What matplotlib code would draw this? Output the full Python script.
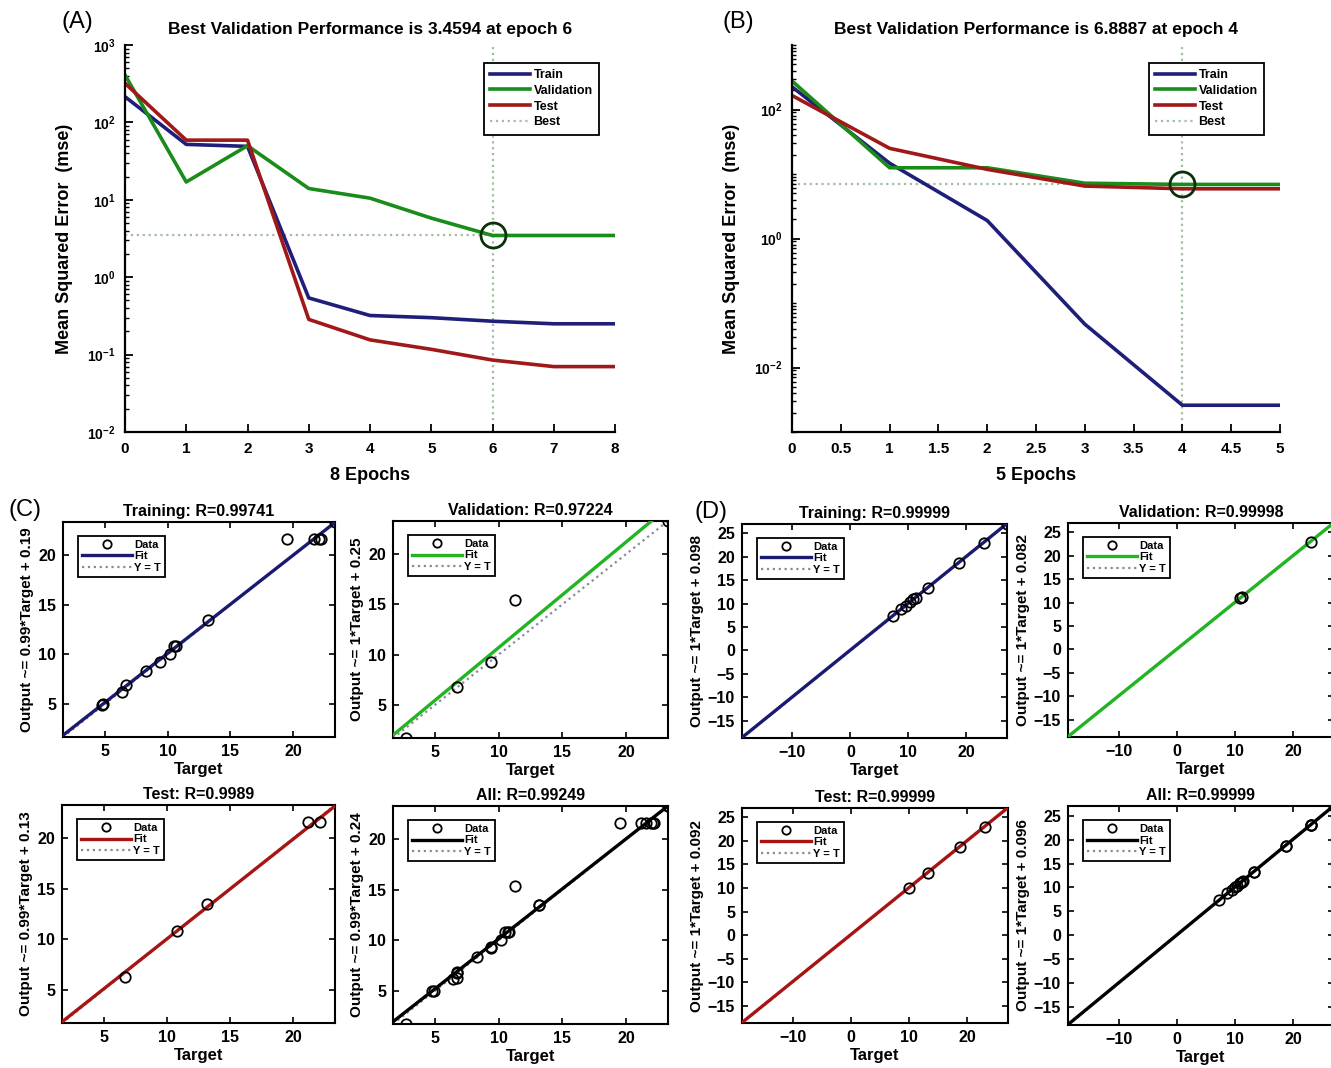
import numpy as np
import matplotlib
matplotlib.use("Agg")
import matplotlib.pyplot as plt
from matplotlib.ticker import LogLocator, NullFormatter
from matplotlib.lines import Line2D

plt.rcParams['font.family'] = ['Liberation Sans', 'DejaVu Sans']
plt.rcParams['mathtext.fontset'] = 'custom'
plt.rcParams['mathtext.rm'] = 'Liberation Sans:bold'
plt.rcParams['mathtext.it'] = 'Liberation Sans:bold'
plt.rcParams['mathtext.bf'] = 'Liberation Sans:bold'

# ---------------- data: performance curves ----------------
epochs_A = [0, 1, 2, 3, 4, 5, 6, 7, 8]
train_A = [215, 52, 49, 0.54, 0.32, 0.30, 0.27, 0.25, 0.25]
val_A = [410, 17, 50, 14, 10.5, 5.8, 3.4594, 3.4594, 3.4594]
test_A = [320, 59, 59, 0.285, 0.155, 0.117, 0.085, 0.07, 0.07]
best_A = (6, 3.4594)

epochs_B = [0, 1, 2, 3, 4, 5]
train_B = [225, 14.7, 1.9, 0.047, 0.0026, 0.0026]
val_B = [277, 12.5, 12.5, 7.2, 6.8887, 6.8887]
test_B = [165, 25, 11.8, 6.5, 5.9, 5.9]
best_B = (4, 6.8887)

# ---------------- data: regression (C) ----------------
C_train_T = [4.8, 4.9, 6.4, 6.7, 8.3, 9.4, 10.2, 10.5, 10.7, 13.2, 19.5, 21.6, 22.0, 22.2, 23.3]
C_train_O = [4.95, 5.0, 6.2, 6.9, 8.3, 9.2, 10.0, 10.8, 10.8, 13.5, 21.6, 21.6, 21.6, 21.6, 23.3]
C_val_T = [2.7, 6.7, 9.4, 11.3, 23.3]
C_val_O = [1.7, 6.8, 9.3, 15.4, 23.3]
C_test_T = [6.7, 10.8, 13.2, 21.2, 22.1]
C_test_O = [6.3, 10.8, 13.5, 21.6, 21.6]
C_all_T = C_train_T + C_val_T + C_test_T
C_all_O = C_train_O + C_val_O + C_test_O
C_fit = {'train': (0.99, 0.19), 'val': (1.05, 0.2), 'test': (0.99, 0.13), 'all': (0.99, 0.24)}
C_R = {'train': '0.99741', 'val': '0.97224', 'test': '0.9989', 'all': '0.99249'}
C_eq = {'train': '0.99*Target + 0.19', 'val': '1*Target + 0.25',
        'test': '0.99*Target + 0.13', 'all': '0.99*Target + 0.24'}

# ---------------- data: regression (D) ----------------
D_train_T = [7.3, 8.7, 9.5, 10.3, 10.8, 11.3, 13.3, 18.7, 23.0, 27.0]
D_train_O = [7.3, 8.8, 9.5, 10.3, 10.9, 11.3, 13.3, 18.7, 23.0, 27.0]
D_val_T = [10.9, 11.2, 23.0]
D_val_O = [10.9, 11.2, 23.0]
D_test_T = [10.0, 13.2, 18.7, 23.0]
D_test_O = [10.0, 13.2, 18.7, 23.0]
D_all_T = D_train_T + D_val_T + D_test_T
D_all_O = D_train_O + D_val_O + D_test_O
D_fit = {'train': (1.0, 0.098), 'val': (1.0, 0.082), 'test': (1.0, 0.092), 'all': (1.0, 0.096)}
D_R = {'train': '0.99999', 'val': '0.99998', 'test': '0.99999', 'all': '0.99999'}
D_eq = {'train': '1*Target + 0.098', 'val': '1*Target + 0.082',
        'test': '1*Target + 0.092', 'all': '1*Target + 0.096'}

C_lim = (1.7, 23.3)
D_lim = (-18.7, 27.0)
C_ticks = [5, 10, 15, 20]
D_xticks = [-10, 0, 10, 20]
D_yticks = [-15, -10, -5, 0, 5, 10, 15, 20, 25]

# ---------------- styling ----------------
COL_TRAIN = '#1f1f7a'
COL_VAL = '#1a8c1a'
COL_TEST = '#a01818'
COL_BEST = '#9fbf9f'
FIT_COL = {'train': '#1a1a70', 'val': '#22b422', 'test': '#a81414', 'all': '#000000'}
FIT_LABEL = {'train': 'Training', 'val': 'Validation', 'test': 'Test', 'all': 'All'}

W, H = 1331, 1068
fig = plt.figure(figsize=(W / 100, H / 100), dpi=100)


def ax_at(l, t, r, b):
    return fig.add_axes([l / W, 1 - b / H, (r - l) / W, (b - t) / H])


def perf_panel(ax, ep, tr, va, te, best, ylim, yticks, xticks, xticklabels, xlabel):
    ax.semilogy(ep, tr, color=COL_TRAIN, lw=2.6, label='Train')
    ax.semilogy(ep, va, color=COL_VAL, lw=2.6, label='Validation')
    ax.semilogy(ep, te, color=COL_TEST, lw=2.6, label='Test')
    ax.plot([ep[0], ep[-1]], [best[1], best[1]], color=COL_BEST, ls=':', lw=1.6, label='Best', zorder=1)
    ax.plot([best[0], best[0]], [ylim[0], ylim[1]], color=COL_BEST, ls=':', lw=1.6, zorder=1)
    ax.plot([best[0]], [best[1]], 'o', ms=18, mfc='none', mec='#0b300b', mew=2.0, zorder=5)
    ax.set_xlim(ep[0], ep[-1])
    ax.set_ylim(*ylim)
    ax.set_yticks(yticks)
    ax.set_yticklabels([r'$10^{%d}$' % int(np.round(np.log10(v))) for v in yticks], fontsize=10)
    ax.yaxis.set_minor_locator(LogLocator(base=10, subs=np.arange(1, 10), numticks=100))
    ax.yaxis.set_minor_formatter(NullFormatter())
    ax.set_xticks(xticks)
    ax.set_xticklabels(xticklabels, fontsize=11, fontweight='bold')
    for s in ['top', 'right']:
        ax.spines[s].set_visible(False)
    for s in ['left', 'bottom']:
        ax.spines[s].set_linewidth(1.6)
    ax.tick_params(which='major', direction='in', length=6, width=1.3, pad=7)
    ax.tick_params(which='minor', direction='in', length=3, width=1.0)
    ax.set_xlabel(xlabel, fontsize=13, fontweight='bold', labelpad=8)
    ax.set_ylabel('Mean Squared Error  (mse)', fontsize=13, fontweight='bold', labelpad=10)
    ax.set_title('Best Validation Performance is %.4f at epoch %d' % (best[1], best[0]),
                 fontsize=12.5, fontweight='bold', pad=8)
    leg = ax.legend(loc='upper right', bbox_to_anchor=(0.98, 0.97), fancybox=False,
                    edgecolor='black', framealpha=1, prop={'weight': 'bold', 'size': 9},
                    handlelength=3.2, labelspacing=0.3, borderpad=0.5, handletextpad=0.3)
    leg.get_frame().set_linewidth(1.3)


axA = ax_at(125, 45, 615, 432)
perf_panel(axA, epochs_A, train_A, val_A, test_A, best_A, (1e-2, 1e3),
           [1e-2, 1e-1, 1e0, 1e1, 1e2, 1e3], epochs_A, [str(e) for e in epochs_A], '8 Epochs')

axB = ax_at(792, 45, 1280, 432)
xB = [i * 0.5 for i in range(11)]
perf_panel(axB, epochs_B, train_B, val_B, test_B, best_B, (1e-3, 1e3),
           [1e-2, 1e0, 1e2], xB, ['%g' % v for v in xB], '5 Epochs')


def reg_panel(ax, T, O, key, fit, R, eq, lim, xticks, yticks, tsize=11.5):
    m, b = fit
    xs = np.array(lim)
    ax.plot(xs, xs, color='#8a8a9a', ls=':', lw=1.6, zorder=2)
    ax.plot(xs, m * xs + b, color=FIT_COL[key], lw=2.4, zorder=3)
    ax.plot(T, O, 'o', ms=7.5, mfc='none', mec='black', mew=1.3, zorder=4)
    ax.set_xlim(*lim)
    ax.set_ylim(*lim)
    ax.set_xticks(xticks)
    ax.set_yticks(yticks)
    ax.tick_params(direction='in', top=True, right=True, length=4, width=1.2,
                   labelsize=tsize, pad=5)
    for lab in ax.get_xticklabels() + ax.get_yticklabels():
        lab.set_fontweight('bold')
    for s in ax.spines.values():
        s.set_linewidth(1.5)
    ax.set_title('%s: R=%s' % (FIT_LABEL[key], R), fontsize=11.5, fontweight='bold', pad=4)
    ax.set_xlabel('Target', fontsize=12, fontweight='bold', labelpad=2)
    ax.set_ylabel('Output ~= ' + eq, fontsize=11, fontweight='bold', labelpad=3)
    handles = [Line2D([], [], ls='none', marker='o', ms=6, mfc='none', mec='black', mew=1.3),
               Line2D([], [], color=FIT_COL[key], lw=2.4),
               Line2D([], [], color='#8a8a9a', ls=':', lw=1.6)]
    leg = ax.legend(handles, ['Data', 'Fit', 'Y = T'], loc='upper left',
                    bbox_to_anchor=(0.035, 0.96), fancybox=False, edgecolor='black',
                    framealpha=1, prop={'weight': 'bold', 'size': 8},
                    handlelength=4.5, labelspacing=0.12, borderpad=0.35, handletextpad=0.2)
    leg.get_frame().set_linewidth(1.3)


# (C)
reg_panel(ax_at(63, 522, 335, 737), C_train_T, C_train_O, 'train', C_fit['train'],
          C_R['train'], C_eq['train'], C_lim, C_ticks, C_ticks)
reg_panel(ax_at(393, 521, 668, 738), C_val_T, C_val_O, 'val', C_fit['val'],
          C_R['val'], C_eq['val'], C_lim, C_ticks, C_ticks)
reg_panel(ax_at(62, 805, 335, 1023), C_test_T, C_test_O, 'test', C_fit['test'],
          C_R['test'], C_eq['test'], C_lim, C_ticks, C_ticks)
reg_panel(ax_at(393, 806, 668, 1024), C_all_T, C_all_O, 'all', C_fit['all'],
          C_R['all'], C_eq['all'], C_lim, C_ticks, C_ticks)

# (D)
reg_panel(ax_at(742, 524, 1007, 738), D_train_T, D_train_O, 'train', D_fit['train'],
          D_R['train'], D_eq['train'], D_lim, D_xticks, D_yticks)
reg_panel(ax_at(1068, 523, 1334, 737), D_val_T, D_val_O, 'val', D_fit['val'],
          D_R['val'], D_eq['val'], D_lim, D_xticks, D_yticks)
reg_panel(ax_at(742, 808, 1008, 1023), D_test_T, D_test_O, 'test', D_fit['test'],
          D_R['test'], D_eq['test'], D_lim, D_xticks, D_yticks)
reg_panel(ax_at(1068, 806, 1334, 1025), D_all_T, D_all_O, 'all', D_fit['all'],
          D_R['all'], D_eq['all'], D_lim, D_xticks, D_yticks)

# panel letters
for txt, x, y in [('(A)', 62, 22), ('(B)', 722, 22), ('(C)', 8, 510), ('(D)', 694, 512)]:
    fig.text(x / W, 1 - y / H, txt, fontsize=17, ha='left', va='center')

fig.savefig('out.png', dpi=100, facecolor='white')
